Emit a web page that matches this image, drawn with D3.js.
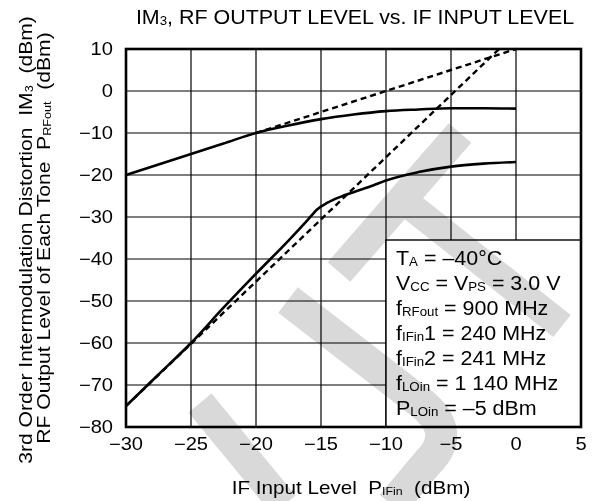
<!DOCTYPE html>
<html><head><meta charset="utf-8">
<script src="https://cdn.jsdelivr.net/npm/d3@7"></script>
<style>
html,body{margin:0;padding:0;background:#fff;}
svg text{font-family:"Liberation Sans",Arial,Helvetica,sans-serif;fill:#000;white-space:pre;}
</style></head>
<body>
<svg id="chart" width="598" height="501"></svg>
<script>
// ---------- data ----------
const xTicks = [-30, -25, -20, -15, -10, -5, 0, 5];
const yTicks = [10, 0, -10, -20, -30, -40, -50, -60, -70, -80];

const rfInput  = [-30, -27.5, -25, -22.5, -20, -17.5, -15, -12.5, -10, -7.5, -5, -2.5, 0];
const rfOutput = [-20, -17.5, -15, -12.5, -10, -8.2, -6.7, -5.6, -4.8, -4.4, -4.1, -4.1, -4.2];

const imInput = [-30, -27.5, -25, -22.5, -20, -17.5, -16, -15.3, -14.5, -13.5, -12.5, -11, -10, -7.5, -5, -2.5, 0];
const imOutput = [-75, -67.5, -60, -51.6, -43.5, -35.6, -30.6, -28.2, -26.6, -25.2, -24.1, -22.5, -21.3, -19.3, -18.0, -17.3, -16.9];

const rfExtInput = [-20, 0];
const rfExtOutput = [-10, 10];
const imExtInput = [-30, -1.3];
const imExtOutput = [-75, 10];

const titleParts = [["IM", 0], ["3", 1], [", RF OUTPUT LEVEL vs. IF INPUT LEVEL", 0]];
const xTitleParts = [["IF Input Level  P", 0], ["IFin", 1], ["  (dBm)", 0]];
const yTitle1Parts = [["3rd Order Intermodulation Distortion  IM", 0], ["3", 1], ["  (dBm)", 0]];
const yTitle2Parts = [["RF Output Level of Each Tone  P", 0], ["RFout", 1], ["  (dBm)", 0]];
const legendLines = [
  [["T", 0], ["A", 1], [" = \u201340\u00B0C", 0]],
  [["V", 0], ["CC", 1], [" = V", 0], ["PS", 1], [" = 3.0 V", 0]],
  [["f", 0], ["RFout", 1], [" = 900 MHz", 0]],
  [["f", 0], ["IFin", 1], ["1 = 240 MHz", 0]],
  [["f", 0], ["IFin", 1], ["2 = 241 MHz", 0]],
  [["f", 0], ["LOin", 1], [" = 1 140 MHz", 0]],
  [["P", 0], ["LOin", 1], [" = \u20135 dBm", 0]]
];

// ---------- layout ----------
const M = {left: 126, right: 581, top: 49, bottom: 427};
const svg = d3.select("#chart");

const x = d3.scaleLinear().domain([-30, 5]).range([M.left, M.right]);
const y = d3.scaleLinear().domain([-80, 10]).range([M.bottom, M.top]);

// text helper: stretched horizontally like the reference typeface
function richText(parent, tx, ty, parts, o) {
  const t = parent.append("text")
    .attr("transform", `translate(${tx},${ty})` + (o.rot ? ` rotate(${o.rot})` : "") + ` scale(${o.sx},1)`)
    .attr("font-size", o.size)
    .attr("text-anchor", o.anchor || "start");
  let prevSub = 0;
  parts.forEach(([s, sub]) => {
    const ts = t.append("tspan").text(s);
    if (sub) ts.attr("font-size", (o.sub || 0.6) * o.size);
    ts.attr("dy", sub && !prevSub ? 1 : (!sub && prevSub ? -1 : 0));
    prevSub = sub;
  });
  return t;
}

// grid
svg.append("g").selectAll("line").data(xTicks.slice(1, -1)).join("line")
  .attr("x1", d => x(d)).attr("x2", d => x(d))
  .attr("y1", M.top).attr("y2", M.bottom)
  .attr("stroke", "#000").attr("stroke-width", 1.2);
svg.append("g").selectAll("line").data(yTicks.slice(1, -1)).join("line")
  .attr("x1", M.left).attr("x2", M.right)
  .attr("y1", d => y(d)).attr("y2", d => y(d))
  .attr("stroke", "#000").attr("stroke-width", 1.2);

// conditions box
const boxTop = 240;
svg.append("rect")
  .attr("x", x(-10)).attr("y", boxTop)
  .attr("width", M.right - x(-10)).attr("height", M.bottom - boxTop)
  .attr("fill", "#fff").attr("stroke", "#000").attr("stroke-width", 1.4);

const leg = svg.append("g");
legendLines.forEach((parts, i) => {
  richText(leg, 396, 265 + i * 25, parts, {size: 19.5, sx: 1.1, sub: 0.62});
});

// curves
const line = d3.line().x(d => x(d[0])).y(d => y(d[1]));
const smooth = d3.line().x(d => x(d[0])).y(d => y(d[1])).curve(d3.curveMonotoneX);
const zip = (a, b) => a.map((v, i) => [v, b[i]]);

svg.append("path").datum(zip(rfExtInput, rfExtOutput)).attr("d", line)
  .attr("fill", "none").attr("stroke", "#000").attr("stroke-width", 2.4).attr("stroke-dasharray", "6,4");
svg.append("path").datum(zip(imExtInput, imExtOutput)).attr("d", line)
  .attr("fill", "none").attr("stroke", "#000").attr("stroke-width", 2.4).attr("stroke-dasharray", "6,4");
svg.append("path").datum(zip(rfInput, rfOutput)).attr("d", smooth)
  .attr("fill", "none").attr("stroke", "#000").attr("stroke-width", 2.6);
svg.append("path").datum(zip(imInput, imOutput)).attr("d", smooth)
  .attr("fill", "none").attr("stroke", "#000").attr("stroke-width", 2.6);

// frame
svg.append("rect").attr("x", M.left).attr("y", M.top)
  .attr("width", M.right - M.left).attr("height", M.bottom - M.top)
  .attr("fill", "none").attr("stroke", "#000").attr("stroke-width", 2.6);

// tick labels
const fmt = d => (d < 0 ? "\u2212" + Math.abs(d) : String(d));
const yl = svg.append("g");
yTicks.forEach(d => richText(yl, 113, y(d) + 6.3, [[fmt(d), 0]], {size: 17.5, sx: 1.15, anchor: "end"}));
const xl = svg.append("g");
xTicks.forEach(d => richText(xl, x(d), 450, [[fmt(d), 0]], {size: 17.5, sx: 1.15, anchor: "middle"}));

// titles
richText(svg, 355, 24, titleParts, {size: 19.5, sx: 1.1, anchor: "middle", sub: 0.62});
richText(svg, 351, 494, xTitleParts, {size: 17.5, sx: 1.18, anchor: "middle"});
richText(svg, 32, 240, yTitle1Parts, {size: 18.5, sx: 1.14, anchor: "middle", rot: -90});
richText(svg, 50, 238, yTitle2Parts, {size: 18.5, sx: 1.14, anchor: "middle", rot: -90});

// background watermark strokes (decorative)
const wm = svg.append("g").style("mix-blend-mode", "multiply")
  .attr("fill", "none").attr("stroke", "#d9d9d9");
wm.append("path").attr("d", "M460,133 L339,272").attr("stroke-width", 30);
wm.append("path").attr("d", "M408,204 L562,326").attr("stroke-width", 28);
wm.append("path").attr("d", "M288,300 L420,402 Q458,432 428,462 L392,505").attr("stroke-width", 32);
wm.append("path").attr("d", "M200,403 L284,505").attr("stroke-width", 30);
</script>
</body></html>
